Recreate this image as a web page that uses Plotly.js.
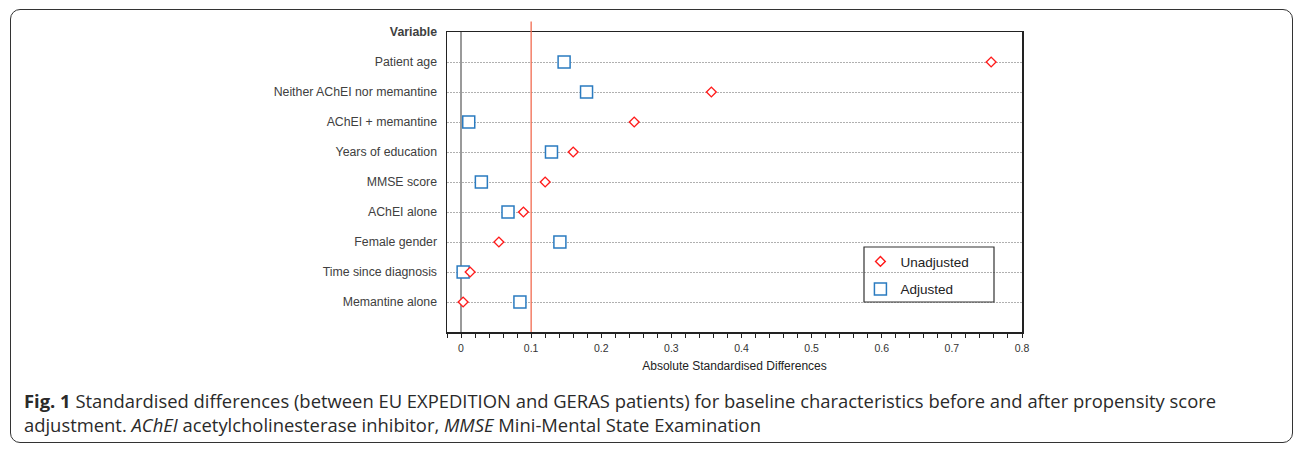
<!DOCTYPE html>
<html>
<head>
<meta charset="utf-8">
<script src="https://cdn.plot.ly/plotly-3.0.1.min.js"></script>
<style>
  html, body { margin: 0; padding: 0; background: #fff; }
  #wrap { position: relative; width: 1295px; height: 450px; }
  #frame { position: absolute; left: 10px; top: 9px; width: 1281px; height: 432px;
           border: 1.5px solid #333; border-radius: 10px; }
  #chart { position: absolute; left: 0; top: 0; width: 1295px; height: 450px; }
</style>
</head>
<body>
<div id="wrap"><div id="frame"></div><div id="chart"></div></div>
<script>
// Variables, listed bottom to top
const variables = [
  "Memantine alone",
  "Time since diagnosis",
  "Female gender",
  "AChEI alone",
  "MMSE score",
  "Years of education",
  "AChEI + memantine",
  "Neither AChEI nor memantine",
  "Patient age"
];
const headerLabel = "Variable";
const unadjusted = [0.003, 0.013, 0.054, 0.089, 0.120, 0.160, 0.247, 0.357, 0.756];
const adjusted   = [0.084, 0.003, 0.141, 0.067, 0.029, 0.129, 0.011, 0.179, 0.147];
const threshold = 0.1;
const xTickVals = [0, 0.1, 0.2, 0.3, 0.4, 0.5, 0.6, 0.7, 0.8];
const xTickText = ["0", "0.1", "0.2", "0.3", "0.4", "0.5", "0.6", "0.7", "0.8"];
const xTitle = "Absolute Standardised Differences";
const captionLine1 = "<b>Fig. 1</b> Standardised differences (between EU EXPEDITION and GERAS patients) for baseline characteristics before and after propensity score";
const captionLine2 = "adjustment. <i>AChEI</i> acetylcholinesterase inhibitor, <i>MMSE</i> Mini-Mental State Examination";

const yIdx = variables.map((_, i) => i);
const yTickVals = yIdx.concat([variables.length]);
const yTickText = variables.concat(["<b>" + headerLabel + "</b>"]);

const traces = [
  {
    type: "scatter", mode: "markers", name: "Adjusted",
    x: adjusted, y: yIdx, legendgroup: "a", legendrank: 2,
    marker: { symbol: "square", size: 12, color: "#ffffff", line: { width: 1.5, color: "#2a7bc0" } },
    cliponaxis: false
  },
  {
    type: "scatter", mode: "markers", name: "Unadjusted",
    x: unadjusted, y: yIdx, legendgroup: "u", legendrank: 1,
    marker: { symbol: "diamond", size: 7.5, color: "#ffffff", line: { width: 1.4, color: "#ff1a1a" } },
    cliponaxis: false
  }
];

const layout = {
  width: 1295, height: 450,
  margin: { l: 447, r: 273, t: 32, b: 118 },
  paper_bgcolor: "rgba(0,0,0,0)",
  plot_bgcolor: "#fff",
  font: { family: "Liberation Sans, Arial, sans-serif", color: "#404040", size: 11 },
  showlegend: true,
  legend: {
    x: 0.719, xanchor: "left", y: 0.286, yanchor: "top",
    bgcolor: "rgba(0,0,0,0)", borderwidth: 0,
    font: { size: 13.5, color: "#222", family: "Liberation Sans, Arial, sans-serif" },
    traceorder: "grouped", tracegroupgap: 7
  },
  xaxis: {
    range: [-0.02, 0.8],
    tickvals: xTickVals, ticktext: xTickText,
    ticks: "outside", ticklen: 4, tickcolor: "#222", tickwidth: 1,
    minor: { dtick: 0.02, ticks: "outside", ticklen: 4, tickcolor: "#222", showgrid: false },
    showgrid: false,
    zeroline: true, zerolinecolor: "#9a9a9a", zerolinewidth: 1.5,
    showline: true, linecolor: "#222", linewidth: 1.5, mirror: true,
    tickfont: { size: 10.5, color: "#333" },
    ticklabelstandoff: 2,
    title: { text: xTitle, font: { size: 12, color: "#222" }, standoff: 8 }
  },
  yaxis: {
    range: [-1, variables.length],
    tickvals: yTickVals, ticktext: yTickText,
    ticks: "", showgrid: true, gridcolor: "#b0b0b0", griddash: "1.5px,1.5px", gridwidth: 1,
    zeroline: false,
    showline: true, linecolor: "#222", linewidth: 1.5, mirror: true,
    tickfont: { size: 12.3, color: "#404040" },
    ticklabelstandoff: 6
  },
  shapes: [
    { type: "line", xref: "x", yref: "paper", x0: threshold, x1: threshold, y0: 0, y1: 1.035,
      line: { color: "#f26b50", width: 1.3 } },
    { type: "rect", xref: "paper", yref: "paper",
      x0: (864 - 447) / 575, x1: (994 - 447) / 575, y0: (332 - 302) / 300, y1: (332 - 247) / 300,
      line: { color: "#333", width: 1.2 }, fillcolor: "rgba(0,0,0,0)", layer: "above" }
  ],
  annotations: [
    { xref: "paper", yref: "paper", x: (22 - 447) / 575, y: (332 - 400) / 300,
      xanchor: "left", yanchor: "middle", showarrow: false, text: captionLine1,
      font: { family: "Open Sans, Noto Sans, sans-serif", size: 18.4, color: "#2a2a2a" } },
    { xref: "paper", yref: "paper", x: (22 - 447) / 575, y: (332 - 424) / 300,
      xanchor: "left", yanchor: "middle", showarrow: false, text: captionLine2,
      font: { family: "Open Sans, Noto Sans, sans-serif", size: 18.4, color: "#2a2a2a" } }
  ]
};

Plotly.newPlot("chart", traces, layout, { displayModeBar: false, staticPlot: true });
</script>
</body>
</html>
